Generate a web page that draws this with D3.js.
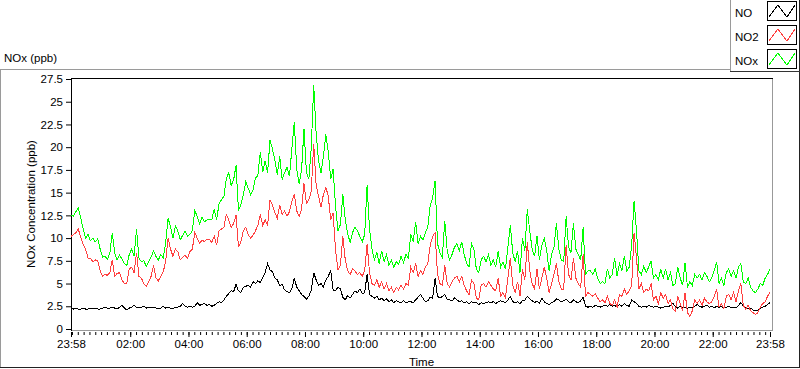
<!DOCTYPE html>
<html><head><meta charset="utf-8">
<script src="https://cdn.jsdelivr.net/npm/d3@7"></script>
<style>
html,body{margin:0;padding:0;background:#fff;}
svg{display:block;font-family:"Liberation Sans",Arial,sans-serif;}
</style></head><body>
<svg id="chart" width="800" height="369"></svg>
<script>
// ---------- data (5-minute readings from 23:58 to 23:58 next day) ----------
const seriesNames = ["NO", "NO2", "NOx"];
const seriesColors = ["#000000", "#ff4040", "#00ff00"];
const sampleStepMinutes = 5;
const xTickLabels = ["23:58","02:00","04:00","06:00","08:00","10:00","12:00","14:00","16:00","18:00","20:00","22:00","23:58"];
const yTicks = [0,2.5,5,7.5,10,12.5,15,17.5,20,22.5,25,27.5];
const chartTitle = "NOx (ppb)";
const yLabel = "NOx Concentration (ppb)";
const xLabel = "Time";

const noValues = [
2.3,2.2,2.3,2.2,2.2,2.3,2.2,2.2,2.3,2.2,2.3,2.2,2.2,2.3,2.4,2.3,2.3,2.4,2.3,2.2,
2.4,2.6,2.3,2.1,2.3,2.4,2.6,2.4,2.3,2.4,2.5,2.3,2.4,2.3,2.4,2.3,2.2,2.3,2.5,2.3,
2.4,2.3,2.2,2.4,2.4,2.5,2.8,2.5,2.4,2.5,2.4,2.5,2.9,2.6,2.7,2.8,2.6,2.7,
2.5,2.6,2.8,3.0,2.9,3.2,3.6,3.9,4.2,4.1,4.9,4.2,4.0,4.6,4.7,4.8,4.6,5.2,5.0,5.3,
5.1,5.7,6.2,7.2,6.5,6.3,5.6,5.4,4.8,4.9,4.3,4.1,4.0,4.4,5.6,4.6,4.2,3.8,3.6,3.3,
3.6,4.3,6.2,5.4,4.8,5.0,4.6,5.4,5.8,6.4,4.3,4.2,4.6,4.4,3.5,3.2,3.7,3.4,
3.8,4.2,4.0,4.4,3.9,4.0,6.0,3.8,3.6,3.4,3.6,3.2,3.4,3.1,3.3,3.0,3.2,2.9,3.1,3.0,
2.9,3.1,2.9,3.0,3.0,2.9,3.2,3.5,3.8,3.4,3.0,3.1,3.5,3.4,5.6,3.6,3.4,3.6,3.8,3.3,
3.2,3.1,3.4,3.2,3.0,3.1,2.9,3.0,2.8,3.0,2.9,2.9,2.7,2.9,2.8,2.9,3.0,
2.9,3.0,2.8,3.0,3.1,3.0,2.9,3.2,3.6,3.0,2.9,3.0,2.8,3.1,3.2,3.6,3.3,3.1,2.9,3.1,
2.8,3.4,3.0,2.8,2.7,2.9,3.0,3.3,3.2,3.0,3.1,3.3,3.0,2.9,3.2,3.0,2.9,3.1,3.5,2.5,
2.4,2.5,2.4,2.6,2.5,2.4,2.5,2.6,2.5,2.7,2.5,2.6,2.4,2.7,2.5,2.8,2.6,2.5,
3.2,3.0,2.8,2.5,2.4,2.5,2.4,2.6,2.5,2.4,2.5,2.4,2.3,2.4,2.5,2.4,2.6,2.8,2.5,2.3,
2.5,2.3,2.4,2.3,2.4,2.3,2.5,2.7,2.5,2.4,2.5,2.6,2.4,2.5,2.3,2.5,2.4,2.5,2.3,2.4,
2.5,2.3,2.4,2.3,2.6,2.9,2.5,2.4,2.2,2.3,2.1,2.0,2.1,2.3,2.4,2.5,2.7,2.9
];

const no2Values = [
10.2,10.4,10.6,11.0,10.1,9.3,8.8,7.8,7.8,7.4,7.6,7.5,6.4,5.8,6.0,5.9,6.2,7.6,5.8,6.1,
6.2,5.4,5.0,5.0,6.6,6.8,6.2,8.4,5.8,5.6,5.0,4.7,5.2,5.8,7.0,5.6,5.3,5.8,6.3,7.4,
10.0,8.8,8.0,8.8,8.5,7.6,7.9,8.1,7.8,8.5,8.8,10.6,10.0,9.4,9.8,9.6,9.9,9.9,
9.5,10.2,9.2,10.8,11.0,11.2,12.6,12.0,11.2,11.6,12.5,9.0,9.6,10.8,11.2,10.4,10.0,10.3,10.8,11.4,
12.6,11.4,12.0,11.4,14.2,13.6,12.8,12.2,13.6,12.6,13.0,12.4,12.9,14.0,14.8,13.0,12.4,13.2,16.0,13.8,
14.2,15.2,20.4,15.8,14.6,13.4,14.8,15.6,14.6,12.0,12.8,8.6,6.5,7.0,10.2,7.6,6.4,6.0,
6.6,6.4,6.0,6.2,5.8,6.4,9.4,6.2,5.0,4.8,5.4,4.6,5.2,4.4,5.0,4.2,4.6,4.0,4.6,4.3,
4.8,4.4,5.0,4.8,6.8,6.2,7.2,5.8,6.4,6.0,6.8,7.2,9.2,10.2,10.6,6.0,5.0,4.8,7.0,5.0,
4.6,5.2,5.6,5.8,5.2,5.8,4.8,4.2,3.8,5.4,5.0,3.4,3.2,4.8,5.0,4.6,5.2,
4.8,4.4,4.2,5.6,3.6,4.0,3.4,5.6,7.8,4.8,4.0,5.2,3.6,6.6,5.4,9.6,6.4,5.0,4.4,6.6,
4.4,5.6,6.8,5.6,4.0,5.0,6.0,7.2,5.2,4.4,4.4,9.2,6.0,5.4,7.8,5.6,5.0,4.6,8.2,3.6,
4.0,3.8,3.6,3.9,3.4,3.0,3.2,2.9,3.6,2.8,2.6,3.2,2.4,3.8,3.6,4.4,3.8,4.2,
4.8,10.6,7.8,4.4,5.0,4.0,4.4,4.2,5.0,3.2,3.6,2.8,4.0,3.4,3.8,2.8,3.2,2.2,2.0,3.6,
2.8,2.0,4.0,1.8,1.4,2.0,3.2,2.8,3.2,2.6,3.4,3.0,2.8,3.0,3.6,4.4,2.4,2.8,2.2,3.6,
3.8,3.2,4.0,3.0,4.2,5.0,2.6,2.2,2.6,2.0,1.8,1.6,1.8,2.4,2.8,3.0,3.6,4.0
];

const noxValues = [
12.5,12.4,12.9,13.3,12.2,11.0,10.0,10.4,9.7,10.0,9.6,9.9,8.8,7.9,8.0,7.7,8.3,10.6,8.4,7.6,
8.1,7.7,7.2,7.0,8.2,8.8,8.0,11.0,7.8,7.4,7.5,6.9,7.4,7.9,8.6,8.0,7.6,8.2,7.8,9.5,
12.2,11.2,10.0,11.3,10.8,9.8,10.3,10.8,10.2,10.4,10.8,13.0,12.4,11.6,12.3,11.8,12.0,12.1,
12.0,13.2,12.0,13.8,14.2,14.6,16.5,17.2,15.8,16.4,18.0,13.0,13.7,14.8,16.2,15.5,14.8,15.3,16.6,16.9,
19.5,17.3,18.5,17.2,20.8,19.8,18.6,17.0,19.0,16.4,17.2,17.8,16.8,19.8,22.8,17.6,16.0,17.5,22.0,17.2,
16.5,20.0,26.8,21.5,18.5,17.2,19.0,21.4,19.5,16.5,17.6,13.5,10.8,11.5,14.8,12.0,10.5,9.5,
10.6,11.2,10.8,10.2,9.6,10.4,15.8,11.0,8.8,7.6,8.4,7.2,8.6,7.4,8.2,7.0,7.6,6.8,7.4,7.1,
8.0,7.3,8.2,7.8,10.4,9.6,11.8,9.4,10.2,9.8,10.6,11.2,13.6,14.4,16.3,9.4,8.4,7.9,11.9,8.6,
7.6,8.2,9.0,9.4,8.6,9.6,8.2,7.2,6.8,9.4,8.8,6.6,6.2,7.6,8.0,7.4,8.2,
7.0,7.6,6.8,8.6,6.8,7.4,6.6,9.0,11.4,8.4,7.4,8.6,6.2,10.0,8.6,13.2,10.8,8.8,8.0,10.2,
7.6,9.2,10.0,8.6,6.4,8.2,9.0,11.6,8.8,7.6,7.4,12.4,9.0,8.4,11.6,8.8,8.2,7.6,11.2,6.0,
6.4,6.4,6.0,6.6,5.6,5.0,5.2,5.0,6.6,5.6,6.0,7.8,5.8,7.2,6.4,8.0,6.4,6.8,
9.2,14.1,10.8,6.4,6.0,6.9,6.2,6.8,7.5,5.6,6.0,5.4,6.6,5.6,6.6,5.4,6.2,4.8,5.0,6.8,
5.6,4.8,7.3,4.6,5.2,4.8,6.0,5.6,6.0,5.4,6.2,5.8,5.2,5.6,6.4,7.4,5.0,5.6,4.8,6.2,
6.6,5.8,6.4,5.6,6.8,7.2,5.2,5.0,5.6,4.6,4.2,4.0,4.4,5.0,4.8,5.6,6.0,6.6
];

// ---------- layout ----------
const svg = d3.select("#chart");
const plotL = 71, plotR = 772, plotT = 78, plotB = 330;
const t0 = new Date(2000, 0, 1, 23, 58);
const t1 = new Date(2000, 0, 2, 23, 58);
const x = d3.scaleTime().domain([t0, t1]).range([71, 770]);
const y = d3.scaleLinear().domain([0, 27.5]).range([329, 79]);

const allSeries = [noValues, no2Values, noxValues];
const timeOf = i => d3.timeMinute.offset(t0, i * sampleStepMinutes);

// outer panel
svg.append("rect").attr("x",0).attr("y",0).attr("width",800).attr("height",369).attr("fill","#fff");
svg.append("line").attr("x1",0).attr("x2",730).attr("y1",69.5).attr("y2",69.5).attr("stroke","#9a9a9a");
svg.append("line").attr("x1",0.5).attr("x2",0.5).attr("y1",69).attr("y2",368).attr("stroke","#9a9a9a");
svg.append("line").attr("x1",0).attr("x2",800).attr("y1",367.5).attr("y2",367.5).attr("stroke","#222");
svg.append("line").attr("x1",799.5).attr("x2",799.5).attr("y1",0).attr("y2",368).attr("stroke","#222");

// title
svg.append("text").attr("x",4).attr("y",62).attr("font-size","11.5px").attr("fill","#000").text(chartTitle);

// plot frame
svg.append("line").attr("x1",plotL).attr("x2",plotR+1).attr("y1",plotT+0.5).attr("y2",plotT+0.5).attr("stroke","#000");
svg.append("line").attr("x1",plotL+0.5).attr("x2",plotL+0.5).attr("y1",plotT).attr("y2",plotB+1).attr("stroke","#000");
svg.append("line").attr("x1",plotR+0.5).attr("x2",plotR+0.5).attr("y1",plotT+1).attr("y2",plotB+1).attr("stroke","#999");
svg.append("line").attr("x1",plotL+1).attr("x2",plotR+1).attr("y1",plotB+0.5).attr("y2",plotB+0.5).attr("stroke","#999");

// y axis
const yAxis = svg.append("g").attr("transform",`translate(${plotL},0)`)
  .call(d3.axisLeft(y).tickValues(yTicks).tickSize(5).tickPadding(3).tickFormat(d => String(d)));
yAxis.select(".domain").remove();
yAxis.selectAll("text").attr("font-size","11.5px").attr("font-family","Liberation Sans, Arial, sans-serif").attr("fill","#000");
yAxis.selectAll("line").attr("stroke","#000");

// x axis - minor ticks
const minorTicks = [t0].concat(d3.timeMinute.every(12).range(t0, t1));
const xMinor = svg.append("g").attr("transform","translate(0,332)")
  .call(d3.axisBottom(x).tickValues(minorTicks).tickSize(3).tickFormat(""));
xMinor.select(".domain").remove();
xMinor.selectAll("line").attr("stroke","#000");

// x axis - major ticks
const majorTicks = xTickLabels.map((lab, i) => {
  if (i === 0) return t0;
  if (i === xTickLabels.length - 1) return t1;
  const [h, m] = lab.split(":").map(Number);
  return new Date(2000, 0, 2, h, m);
});
const xAxis = svg.append("g").attr("transform","translate(0,332)")
  .call(d3.axisBottom(x).tickValues(majorTicks).tickSize(5).tickPadding(3)
    .tickFormat((d, i) => xTickLabels[i]));
xAxis.select(".domain").remove();
xAxis.selectAll("line").attr("stroke","#000");
xAxis.selectAll("text").attr("font-size","11.5px").attr("font-family","Liberation Sans, Arial, sans-serif").attr("fill","#000");

// axis labels
svg.append("text").attr("x",(plotL+plotR)/2).attr("y",366).attr("text-anchor","middle")
  .attr("font-size","11.5px").attr("fill","#000").text(xLabel);
svg.append("text").attr("transform","translate(35,204) rotate(-90)").attr("text-anchor","middle")
  .attr("font-size","11.5px").attr("fill","#000").text(yLabel);

// series
const line = d3.line().x((d, i) => x(timeOf(i))).y(d => y(d));
const plotG = svg.append("g");
allSeries.forEach((vals, k) => {
  plotG.append("path").datum(vals).attr("d", line)
    .attr("fill","none").attr("stroke", seriesColors[k]).attr("stroke-width",1)
    .attr("shape-rendering","crispEdges");
});

// legend
const lg = svg.append("g");
lg.append("line").attr("x1",730.5).attr("x2",730.5).attr("y1",0).attr("y2",71).attr("stroke","#9a9a9a");
lg.append("line").attr("x1",730).attr("x2",800).attr("y1",71.5).attr("y2",71.5).attr("stroke","#333");
seriesNames.forEach((name, k) => {
  const top = 1 + k * 24;
  lg.append("text").attr("x",735).attr("y",top + 16).attr("font-size","11.5px").attr("fill","#000").text(name);
  lg.append("rect").attr("x",767.5).attr("y",top + 0.5).attr("width",29).attr("height",19)
    .attr("fill","#fff").attr("stroke","#000");
  const zz = [[2,16],[11,4],[20,16],[28,4]].map(p => [767 + p[0], top + p[1]]);
  lg.append("path").attr("d", d3.line()(zz)).attr("fill","none").attr("stroke", seriesColors[k])
    .attr("shape-rendering","crispEdges");
});
</script>
</body></html>
